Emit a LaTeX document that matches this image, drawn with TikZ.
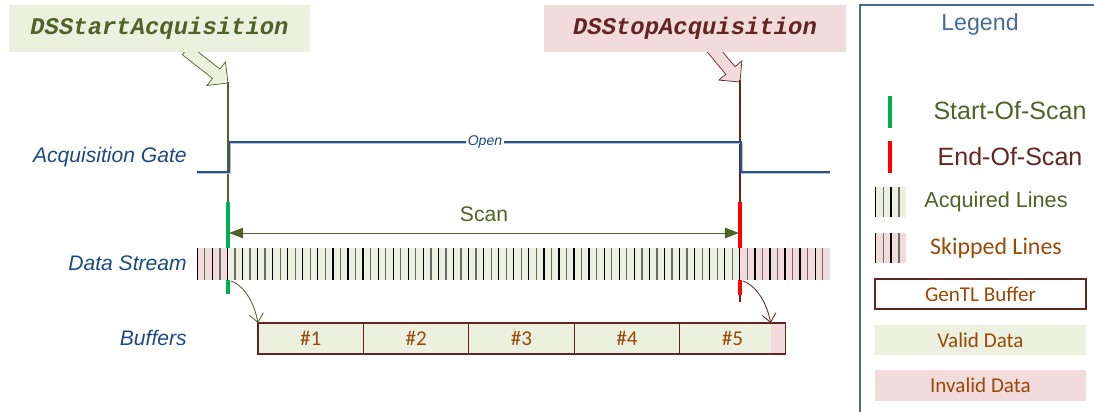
\documentclass[tikz,border=0pt]{standalone}
\usepackage{fontspec}
\setmainfont{Liberation Sans}
\newfontfamily\calibrifont{Carlito}
\newfontfamily\courfont{Liberation Mono}
\usepackage{xcolor}
\usepackage{tikz}
\usetikzlibrary{arrows.meta,positioning,calc}
\definecolor{validbg}{HTML}{EBF1DE}
\definecolor{invalidbg}{HTML}{F2DCDB}
\definecolor{olivetxt}{HTML}{4F6228}
\definecolor{darkredtxt}{HTML}{632523}
\definecolor{browntxt}{HTML}{984807}
\definecolor{navytxt}{HTML}{1F497D}
\definecolor{gateblue}{HTML}{2B5088}
\definecolor{gateshade}{HTML}{B3C5DE}
\definecolor{sosgreen}{HTML}{00B050}
\definecolor{eosred}{HTML}{FF0000}
\definecolor{legendblue}{HTML}{4A6A96}
\definecolor{stripegray}{HTML}{6B6B6B}

\begin{document}
\begin{tikzpicture}[x=0.025cm,y=-0.025cm,
  rowlabel/.style={anchor=east,inner sep=0pt,text=navytxt,font=\fontsize{15}{18}\selectfont\itshape},
  cmdbox/.style={minimum width=7.53cm,minimum height=1.175cm,inner sep=0pt,font=\courfont\fontsize{17}{20}\selectfont\bfseries\itshape},
  bufbox/.style={draw=darkredtxt,line width=0.8pt,fill=validbg,outer sep=0pt,minimum width=2.635cm,minimum height=0.775cm,inner sep=0pt,text=browntxt,font=\calibrifont\fontsize{15}{18}\selectfont},
  lgbox/.style={minimum width=5.275cm,minimum height=0.75cm,inner sep=0pt,text=browntxt,font=\calibrifont\fontsize{15}{18}\selectfont},
  lgtext/.style={inner sep=0pt,font=\fontsize{16.5}{20}\selectfont},
  stripe/.style={line width=0.9pt},
  tip/.style={-{Straight Barb[length=6pt,width=10pt]},line width=0.6pt},
]
\clip (0,0) rectangle (1094,412);

% command arrows
\filldraw[fill=validbg,draw=olivetxt,line width=0.5pt] (182.3,54.7) -- (212.5,78.4) -- (206.9,85.5) -- (228,83) -- (225.5,61.9) -- (219.9,69.0) -- (189.7,45.3) -- cycle;
\filldraw[fill=invalidbg,draw=darkredtxt,line width=0.5pt] (705.4,49.8) -- (725.8,74.3) -- (718.9,80.1) -- (740,82) -- (741.9,60.9) -- (735.0,66.7) -- (714.6,42.2) -- cycle;
\node[cmdbox,fill=validbg,text=olivetxt] (startcmd) at (159.5,28.5) {DSStartAcquisition};
\node[cmdbox,fill=invalidbg,text=darkredtxt] (stopcmd) at (695,28.5) {DSStopAcquisition};

% start / stop markers
\coordinate (sostop) at (228,82);
\coordinate (sosmid) at (228,202);
\coordinate (sosbot) at (228,294);
\coordinate (eostop) at (740,80);
\coordinate (eosmid) at (740,202);
\coordinate (eosred) at (740,295);
\coordinate (eosbot) at (740,302);
\draw[olivetxt,line width=1.9pt] (sostop) -- (sosmid);
\draw[sosgreen,line width=2.4pt] (sosmid) -- (sosbot);
\draw[darkredtxt,line width=1.9pt] (eostop) -- (eosbot);
\draw[eosred,line width=2.4pt] (eosmid) -- (eosred);

% acquisition gate
\draw[gateshade,line width=1.4pt] (197,173.5) -- (230.5,173.5) -- (230.5,143.5) -- (742,143.5) -- (742,173.5) -- (830,173.5);
\draw[gateblue,line width=1.3pt] (197,172) -- (229.5,172) -- (229.5,142) -- (741,142) -- (741,172) -- (830,172);
\node[fill=white,inner sep=1pt,text=navytxt,font=\fontsize{10}{12}\selectfont\itshape] (open) at (485,142) {Open};
\node[rowlabel] (gatelbl) at (187,157) {Acquisition Gate};

% scan
\coordinate (scanl) at (229,233);
\coordinate (scanr) at (739,233);
\draw[olivetxt,line width=0.7pt,{Triangle[length=10pt,width=7.5pt]}-{Triangle[length=10pt,width=7.5pt]}] (scanl) -- (scanr);
\node[text=olivetxt,inner sep=0pt,font=\fontsize{15}{18}\selectfont] (scan) at (484,214) {Scan};

% data stream
\fill[invalidbg] (197,248) rectangle (228,280);
\fill[validbg] (228,248) rectangle (740,280);
\fill[invalidbg] (740,248) rectangle (830,280);
\foreach \i in {0,2,...,82}
  \draw[stripe,black] (197.3+7.535*\i,248) -- ++(0,32);
\foreach \i in {1,3,...,83}
  \draw[stripe,stripegray] (197.3+7.535*\i,248) -- ++(0,32);
\node[rowlabel] (streamlbl) at (187,263) {Data Stream};

% buffers
\node[bufbox] (b1) at (310.7,338.5) {\#1};
\foreach \i [count=\j] in {2,...,5}
  \node[bufbox,right=0pt of b\j] (b\i) {\#\i};
\fill[invalidbg] ($(b5.north east)+(-14.5,0.6)$) rectangle ($(b5.south east)+(-0.6,-0.6)$);
\coordinate (invstart) at ($(b5.north east)+(-14.5,0)$);
\node[rowlabel] (buflbl) at (187,338) {Buffers};
\coordinate (sosout) at (231,281);
\coordinate (eosout) at (743,281);
\draw[tip,olivetxt] (sosout) .. controls +(12,4) and +(-4,-22) .. (b1.north west);
\draw[tip,darkredtxt] (eosout) .. controls +(12,4) and +(-4,-22) .. (invstart);

% legend
\draw[legendblue,line width=1.3pt] (860,430) -- (860,5) -- (1110,5);
\node[lgtext,text=legendblue] (lgtitle) at (980,25) {Legend};
\draw[sosgreen,line width=2.4pt] (890,96) -- (890,128);
\node[lgtext,text=olivetxt,font=\fontsize{17.8}{20}\selectfont] (lgsos) at (1010,111) {Start-Of-Scan};
\draw[eosred,line width=2.4pt] (890,141) -- (890,173);
\node[lgtext,text=darkredtxt,font=\fontsize{17.8}{20}\selectfont] (lgeos) at (1010,157) {End-Of-Scan};
\fill[validbg] (875,187) rectangle (906,217);
\fill[invalidbg] (875,233) rectangle (906,263);
\foreach \i in {0,2} {
  \draw[stripe,black] (875.5+7.8*\i,187) -- ++(0,30);
  \draw[stripe,black] (875.5+7.8*\i,233) -- ++(0,30);
}
\foreach \i in {1,3} {
  \draw[stripe,stripegray] (875.5+7.8*\i,187) -- ++(0,30);
  \draw[stripe,stripegray] (875.5+7.8*\i,233) -- ++(0,30);
}
\node[lgtext,text=olivetxt,font=\fontsize{15.4}{20}\selectfont] (lgacq) at (996,202) {Acquired Lines};
\node[lgtext,text=browntxt,font=\calibrifont\fontsize{17}{20}\selectfont] (lgskip) at (996,248) {Skipped Lines};
\node[lgbox,draw=darkredtxt,line width=0.9pt,fill=white] (lgbuf) at (980.5,294) {GenTL Buffer};
\node[lgbox,fill=validbg,below=0.375cm of lgbuf] (lgvalid) {Valid Data};
\node[lgbox,fill=invalidbg,below=0.375cm of lgvalid] (lginvalid) {Invalid Data};
\end{tikzpicture}
\end{document}
